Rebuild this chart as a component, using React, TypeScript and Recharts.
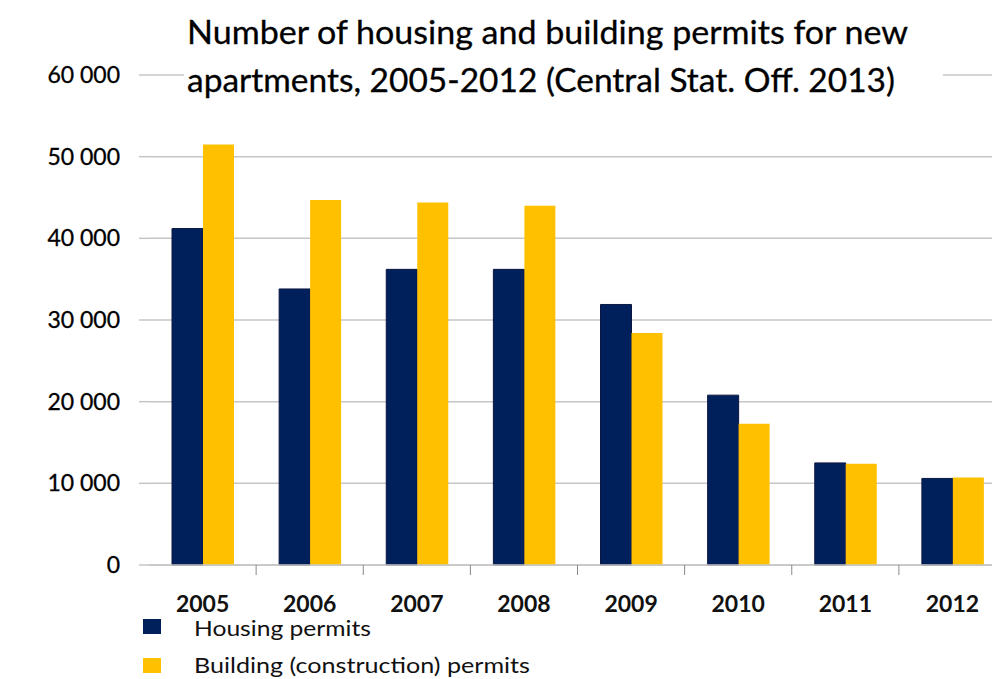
import React from 'react';
import { BarChart, Bar, XAxis, YAxis, CartesianGrid } from 'recharts';

const years = ['2005', '2006', '2007', '2008', '2009', '2010', '2011', '2012'];
const housingPermits = [41200, 33800, 36200, 36200, 31900, 20800, 12500, 10600];
const buildingPermits = [51500, 44700, 44400, 44000, 28400, 17300, 12400, 10700];
const yTicks = [0, 10000, 20000, 30000, 40000, 50000, 60000];
const titleLines = [
  'Number of housing and building permits for new',
  'apartments, 2005-2012 (Central Stat. Off. 2013)',
];
const seriesNames = ['Housing permits', 'Building (construction) permits'];

const NAVY = '#00205C';
const GOLD = '#FFC000';
const GRID = '#C6C6C6';

const data = years.map((y, i) => ({
  year: y,
  housing: housingPermits[i],
  building: buildingPermits[i],
}));

const CHART_W = 1010;
const CHART_H = 679;
const PLOT_LEFT = 149;
const PLOT_RIGHT = 1006;
const BAND = (PLOT_RIGHT - PLOT_LEFT) / years.length;

const fmt = (v: number) => {
  if (v === 0) return '0';
  const s = String(v);
  return s.slice(0, s.length - 3) + ' ' + s.slice(s.length - 3);
};

const XTick = (props: any) => {
  const { x, y, payload, index } = props;
  return (
    <g>
      {index < years.length - 1 && (
        <line x1={x + BAND / 2} x2={x + BAND / 2} y1={y} y2={y + 10} stroke="#888" strokeWidth={1} />
      )}
      <text
        x={x}
        y={y + 47}
        textAnchor="middle"
        fontFamily="Lato, 'Open Sans', sans-serif"
        fontWeight={700}
        fontSize={23}
        fill="#111"
      >
        {payload.value}
      </text>
    </g>
  );
};

export default function App() {
  return (
    <div
      style={{
        position: 'fixed',
        left: 0,
        top: 0,
        width: 992,
        height: 679,
        overflow: 'hidden',
        background: '#fff',
      }}
    >
      <BarChart
        width={CHART_W}
        height={CHART_H}
        data={data}
        margin={{ top: 75, right: CHART_W - PLOT_RIGHT, bottom: 74, left: 0 }}
        barGap={0}
        barSize={31}
      >
        <CartesianGrid vertical={false} stroke={GRID} strokeWidth={1.5} />
        <XAxis
          dataKey="year"
          height={40}
          tickLine={false}
          tickSize={0}
          tickMargin={0}
          axisLine={{ stroke: GRID, strokeWidth: 1.5 }}
          tick={<XTick />}
          interval={0}
        />
        <YAxis
          width={PLOT_LEFT}
          domain={[0, 60000]}
          ticks={yTicks}
          tickFormatter={fmt}
          axisLine={false}
          tickLine={{ stroke: GRID, strokeWidth: 1.5 }}
          tickSize={10}
          tickMargin={19}
          tick={{ fontFamily: "Lato, 'Open Sans', sans-serif", fontSize: 23, fill: '#000', stroke: '#000', strokeWidth: 0.3 }}
        />
        <Bar dataKey="housing" name={seriesNames[0]} fill={NAVY} stroke="#0b1740" strokeWidth={1} isAnimationActive={false} />
        <Bar dataKey="building" name={seriesNames[1]} fill={GOLD} isAnimationActive={false} />
      </BarChart>
      <svg
        width={992}
        height={679}
        style={{ position: 'absolute', left: 0, top: 0, pointerEvents: 'none' }}
      >
        <rect x={184} y={8} width={759} height={95} fill="#fff" />
        <text
          x={187}
          y={44}
          fontFamily="Lato, 'Open Sans', sans-serif"
          fontSize={32}
          fill="#000"
          stroke="#000"
          strokeWidth={0.3}
          textLength={721}
          lengthAdjust="spacingAndGlyphs"
        >
          {titleLines[0]}
        </text>
        <text
          x={187}
          y={92}
          fontFamily="Lato, 'Open Sans', sans-serif"
          fontSize={32}
          fill="#000"
          stroke="#000"
          strokeWidth={0.3}
          textLength={708}
          lengthAdjust="spacingAndGlyphs"
        >
          {titleLines[1]}
        </text>
        <rect x={143} y={619} width={18} height={15} fill={NAVY} />
        <rect x={143} y={658} width={18} height={15} fill={GOLD} />
        <text
          x={194}
          y={636}
          fontFamily="Lato, 'Open Sans', sans-serif"
          fontSize={21}
          fill="#111"
          textLength={177}
          lengthAdjust="spacingAndGlyphs"
        >
          {seriesNames[0]}
        </text>
        <text
          x={194}
          y={673}
          fontFamily="Lato, 'Open Sans', sans-serif"
          fontSize={21}
          fill="#111"
          textLength={336}
          lengthAdjust="spacingAndGlyphs"
        >
          {seriesNames[1]}
        </text>
      </svg>
    </div>
  );
}
